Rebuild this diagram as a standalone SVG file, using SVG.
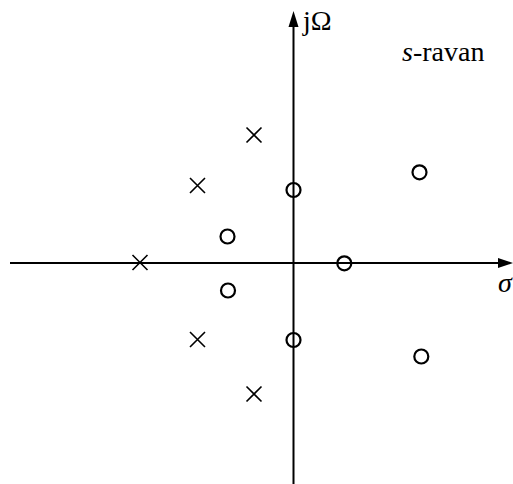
<svg xmlns="http://www.w3.org/2000/svg" width="513" height="484" viewBox="0 0 513 484">
<style>
.ax{stroke:#000;stroke-width:2;fill:none}
.p{stroke:#000;stroke-width:1.6;fill:none}
.z{stroke:#000;stroke-width:2.2;fill:none}
.t{font-family:"Liberation Serif",serif;font-size:28px;fill:#000}
</style>
<defs>
<g id="x"><path class="p" d="M-7.5,-7.5L7.5,7.5M-7.5,7.5L7.5,-7.5"/></g>
</defs>
<g id="axes">
<path class="ax" d="M10,263H500"/>
<path d="M513,263L498,258L498,268Z" fill="#000"/>
<path class="ax" d="M293.5,484V26"/>
<path d="M293.5,11L288.5,27L298.5,27Z" fill="#000"/>
</g>
<g id="labels">
<text class="t" x="303" y="30">jΩ</text>
<text class="t" x="402" y="61" font-size="29"><tspan font-style="italic">s</tspan>-ravan</text>
<text class="t" x="498" y="292" font-style="italic">σ</text>
</g>
<g id="poles">
<use href="#x" x="254" y="135"/>
<use href="#x" x="197.5" y="185.5"/>
<use href="#x" x="140" y="262.5"/>
<use href="#x" x="197.5" y="339.5"/>
<use href="#x" x="254" y="394"/>
</g>
<g id="zeros">
<circle class="z" cx="293.5" cy="190" r="7"/>
<circle class="z" cx="227.5" cy="236.5" r="7"/>
<circle class="z" cx="344.3" cy="263.3" r="7"/>
<circle class="z" cx="419.5" cy="172.3" r="7"/>
<circle class="z" cx="228" cy="290.5" r="7"/>
<circle class="z" cx="293.5" cy="340" r="7"/>
<circle class="z" cx="421.3" cy="356.5" r="7"/>
</g>
</svg>
